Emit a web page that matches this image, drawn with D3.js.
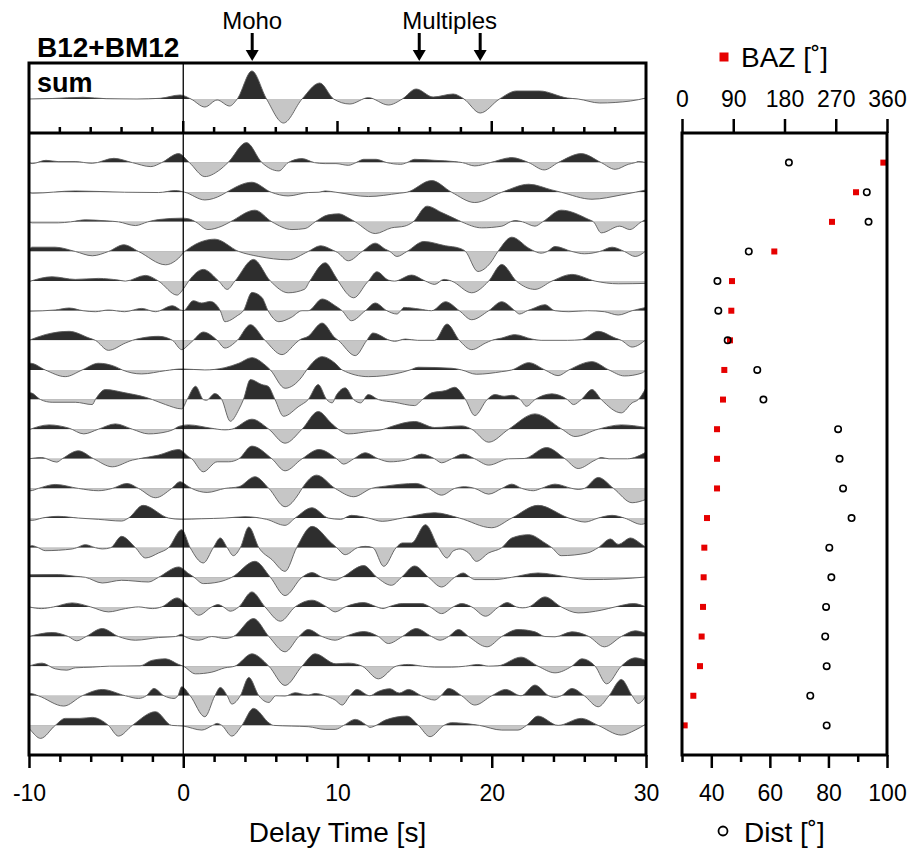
<!DOCTYPE html>
<html>
<head>
<meta charset="utf-8">
<script src="https://cdn.jsdelivr.net/npm/d3@7"></script>
<style>
  body { margin: 0; background: #fff; }
  svg { display: block; font-family: "Liberation Sans", Arial, Helvetica, sans-serif; }
</style>
</head>
<body>
<svg id="chart" width="913" height="854"></svg>
<script>
// receiver functions, [delay time (s), amplitude]
const sumTrace = [[-10,0],[-8.5,0.5],[-6.5,1.7],[-5,0.3],[-3,0],[-1.5,0.7],[-0.2,4],[0.5,0],[1.4,-8],[2.2,-1],[3.0,-7],[3.5,0],[4.45,28],[5.4,0],[6.5,-24],[7.7,0],[8.85,16],[9.75,0],[10.8,-5],[12.0,1.3],[13.3,-6],[14.2,0],[15.1,10],[16.2,2],[17.5,5],[18.2,0],[19.25,-14],[20.5,0],[21.6,8],[23.1,8],[24.9,1],[25.6,0],[27.0,-4],[29.0,-2],[30,1]];

const rf01 = [[-10,0],[-9.8,-1],[-8.9,2.3],[-8.1,1],[-7,1],[-5.9,-0.7],[-4.5,4.3],[-3.3,0],[-2.1,-4],[-1.4,0],[-0.3,9],[0.4,0],[1.4,-14],[2.3,-8],[2.9,0],[4.1,20],[5.1,0],[6.2,-8.3],[6.8,0],[7.7,4],[8.5,0],[9.2,-1],[9.9,-1],[10.7,-2.7],[11.2,0],[11.7,3.3],[12.5,3.3],[13.2,0],[14.1,-1.7],[14.5,0],[15.0,3.3],[16.3,2.3],[17.6,1],[18.1,0],[18.9,-3.3],[19.9,0],[21.3,5],[22.4,0],[23.4,-7.3],[24.3,0],[25.8,9],[27.1,0],[28.0,-6.7],[28.85,-1.7],[29.3,0],[29.5,1],[30,0]];
const rf02 = [[-10,0],[-9.8,-1],[-7,1.3],[-3.8,0],[-1.6,-0.3],[-0.5,1.7],[0.1,0],[1.4,-7.7],[2.5,-2.7],[2.8,0],[4.45,10],[5.7,0],[6.8,-3.7],[8.1,-0.3],[8.8,0],[9.2,1.3],[9.9,0],[12.0,-4.3],[14.0,-1],[14.5,0],[16.1,11.7],[17.4,0],[18.9,-10.3],[20.65,0],[22.4,8],[23.9,2.3],[24.5,0],[26.5,-7],[28.4,-2.7],[29.3,0],[30,2.3]];
const rf03 = [[-10,0],[-9.8,-1],[-8.1,-1],[-7.3,0],[-6.35,2],[-5.0,1],[-4.2,0],[-3.1,-3.7],[-2.3,0],[-1.6,2.3],[-0.1,3.7],[0.35,3],[0.8,0],[1.6,-7.7],[2.5,-4.3],[3.05,0],[4.65,11.7],[5.75,0],[7.05,-7.7],[7.9,-6.7],[8.55,0],[9.4,7],[10.1,8],[10.7,4],[11.15,0],[12.45,-11.7],[13.5,-6],[14.35,-4.3],[14.9,0],[15.8,15.7],[16.8,9],[17.5,4],[18.05,0],[19.35,-6],[20.65,-4.3],[21.2,0],[21.5,1.3],[22.0,0],[22.8,-4.3],[23.3,0],[24.5,11.7],[26.3,2.3],[26.6,0],[27.1,-11],[28.3,-4.3],[28.95,-7.7],[29.7,0],[30,2.3]];
const rf04 = [[-10,2],[-9.8,4.3],[-8.3,4.3],[-7,0],[-5.9,-4.3],[-4.85,0],[-3.85,6.7],[-2.9,0],[-1.15,-13.3],[-0.3,-6.7],[0.1,0],[2.05,12.3],[3.6,0],[4.9,-5],[6.8,-8.3],[8.1,0],[8.9,5.7],[9.7,1.3],[10.0,-1],[10.7,-9.3],[11.6,0],[12.45,8.3],[13.1,2.3],[13.4,0],[13.85,-5],[14.5,0],[15.6,10],[17.0,5.7],[17.9,3.3],[18.3,0],[19.1,-20],[19.9,-11.7],[20.4,0],[21.3,14.3],[22.4,3.3],[22.8,0],[23.2,-1.7],[23.6,0],[24.1,5],[25.2,0],[26.0,-2.3],[27.0,0],[27.8,4.3],[28.6,0],[29.3,-5],[30,0.7]];
const rf05 = [[-10,-0.5],[-8.5,4.3],[-7,1.7],[-5.5,2.7],[-4.2,1],[-3.75,0],[-2.45,5.7],[-1.6,0],[-0.4,-14],[0.0,-8],[0.35,0],[1.3,11.7],[2.3,0],[2.85,-8.3],[3.35,0],[4.55,21.7],[5.65,0],[6.8,-11.7],[7.85,-8.3],[8.2,0],[9.2,18.3],[9.85,5],[10.05,0],[11.05,-16.7],[11.9,-1.7],[12.0,0],[12.55,9.3],[13.3,1],[13.7,0],[14.8,6],[15.7,0],[16.3,-3.3],[16.9,1.7],[17.4,0],[18.7,-11.7],[19.8,0],[20.65,16.7],[21.6,0],[22.8,-8.3],[23.9,0],[25.2,6.7],[26.7,0],[28.2,-2.7],[30,-2.3]];
const rf06 = [[-10,-0.5],[-8.3,0.7],[-7.4,2.7],[-6.5,0],[-5.7,-1],[-4.85,0.7],[-3.8,-1],[-2.7,2.3],[-1.8,-1],[-0.7,5],[0,0],[0.65,10],[1.2,7.7],[1.75,9.3],[2.4,0],[2.7,-11],[3.5,-5],[3.9,0],[4.45,18.3],[5.1,13.3],[5.5,0],[6.2,-11],[7.0,-6.7],[7.7,0],[8.1,0],[9.0,11.7],[9.85,5],[10.3,0],[10.9,-10],[11.8,0],[12.45,7.7],[13.2,0],[13.85,-3.3],[14.1,0],[14.3,3.3],[15.3,1.7],[16.1,0],[17.0,9],[17.9,0],[18.7,-9],[19.8,0],[20.65,9],[21.5,0],[21.8,-3.3],[22.3,0],[22.6,1.7],[23.45,6],[24.1,0],[25.0,-1],[26.2,0],[27.3,-1],[28.2,-4.3],[29.1,0],[30,3.3]];
const rf07 = [[-10,0],[-8.95,5.7],[-7.4,9],[-6.1,2.3],[-5.7,0],[-4.85,-10],[-3.75,-2.7],[-3.3,0],[-2.7,2.3],[-1.6,4],[-0.7,0],[-0.1,-9.3],[0.35,-4.3],[0.65,0],[1.3,8.3],[2.2,0],[2.7,-7.7],[3.5,0],[4.35,15.7],[5.3,0],[6.4,-14.3],[7.3,-2.7],[7.5,0],[8.1,4],[9.0,17.3],[9.85,2.3],[10.05,0],[11.15,-15.3],[11.9,0],[12.3,7.3],[13.4,0],[13.7,-1],[14.4,1.3],[15.2,0],[16.3,0],[17.1,16.3],[17.9,0],[18.7,-9.3],[19.6,-2.7],[20.0,0],[20.65,2.3],[21.5,5.7],[22.6,1.3],[23.2,0],[24.9,0],[25.8,0.7],[26.9,9],[28.0,2.3],[28.4,0],[29.1,-6.7],[30,0.7]];
const rf08 = [[-10,6],[-9.9,6.7],[-8.95,0],[-7.65,-6.7],[-6.55,0],[-5.5,6.7],[-4.4,3.3],[-3.95,0],[-2.7,-4],[-1.15,-0.7],[-0.1,1],[1.4,0],[2.7,2.3],[3.6,6.7],[4.45,12.3],[5.3,5],[5.65,0],[6.6,-18.3],[7.7,-6.7],[8.0,0],[9.0,13.3],[9.85,6.7],[10.3,0],[12.0,-6.7],[14.2,-2.3],[14.7,0],[15.25,2.7],[17.4,1.7],[18.05,0],[19.0,-4.3],[20.65,-1.7],[21.3,0],[22.4,7.3],[23.45,0],[24.3,-5.7],[25.0,0],[26.5,8.3],[27.6,0],[28.6,-6],[29.7,-3.3],[30,0]];
const rf09 = [[-10,6],[-9.9,6.7],[-9.25,0],[-8.5,-2.7],[-7.0,-2.7],[-5.9,-5],[-5.7,0],[-5.05,10],[-3.75,6.7],[-2.45,2.3],[-2.0,0],[-1.15,-5],[-0.1,-9.3],[0.25,0],[0.8,13.3],[1.3,0],[1.5,-0.7],[2.05,6],[2.5,0],[3.05,-21.7],[3.6,-10],[3.9,0],[4.35,20],[5.1,15],[5.5,13.3],[5.95,0],[6.5,-16.7],[7.5,-6.7],[8.1,0],[8.75,15],[9.3,0],[9.65,-3.3],[9.95,5],[10.5,11.7],[11.05,0],[11.5,-3.3],[12.0,5],[12.65,0],[13.7,-2.7],[15.0,-6],[15.5,0],[16.1,6.7],[17.0,9],[17.6,12.3],[18.3,0],[18.9,-16],[19.7,0],[20.2,5],[20.8,3.3],[21.3,4.3],[21.85,0],[22.25,-6.7],[22.8,0],[23.9,5.7],[24.9,0],[25.3,-5],[25.8,0],[26.5,10],[27.1,0],[28.4,-13.3],[29.1,-3.3],[29.5,0],[30,11.7]];
const rf10 = [[-10,-0.5],[-8.7,4.3],[-7.4,1],[-6.45,-4.7],[-5.5,0],[-4.4,5.3],[-3.3,0],[-2.25,-4.7],[-1.0,-2.3],[-0.6,0],[-0.3,2.7],[0.35,4.3],[1.8,1],[2.7,-0.7],[3.15,0],[4.45,10],[5.55,0],[6.6,-14],[7.7,0],[8.75,17.7],[9.6,6],[10.05,0],[10.7,-4.7],[12.0,-2.3],[13.0,0],[13.5,2.7],[15.0,7.7],[16.3,1.7],[18.05,3.3],[18.7,0],[19.8,-13],[21.1,0],[22.8,15.3],[24.55,0],[25.4,-7.3],[26.9,0],[28.4,4.3],[30,1.7]];
const rf11 = [[-10,0],[-9.2,1.3],[-8.2,-3.3],[-7.85,0],[-6.8,8],[-5.8,0],[-4.6,-8],[-3.3,-1.3],[-2.9,0],[-1.6,3.7],[-0.3,9.3],[0.35,2],[0.55,0],[1.3,-13],[2.2,-3],[2.95,-3],[3.6,0],[4.45,12.7],[5.75,0],[6.6,-12],[7.7,0],[8.8,9.3],[9.95,0],[10.4,-5.3],[11.05,0],[11.8,6],[12.65,0],[13.4,-3],[14.4,-1.3],[14.7,0],[15.45,4.7],[16.3,0],[16.75,-4],[17.4,0],[18.15,4.7],[18.9,0],[19.8,-6.3],[21.1,0],[22.1,0.3],[23.55,11.3],[24.75,0],[25.6,-9.7],[26.7,-1.3],[27.1,1.3],[27.6,0],[28.8,0],[30,6.7]];
const rf12 = [[-10,-2],[-9.9,-2.3],[-9.4,0],[-8.3,4],[-6.8,0],[-5.5,-2.3],[-4.6,0],[-3.65,5],[-2.9,0],[-1.8,-9.3],[-0.75,0],[-0.2,6.7],[0.35,1.7],[0.55,0],[1.55,-4],[2.7,0],[3.6,1.7],[4.65,11.7],[5.55,0],[6.6,-18.3],[7.5,-5],[7.7,0],[8.65,13.3],[9.85,0],[11.05,-8.3],[12.2,0],[13.1,2.3],[15.1,5],[15.9,0],[16.75,-6.7],[17.6,0],[18.25,1.7],[18.9,0],[19.8,-5.7],[20.65,0],[21.3,4.3],[21.95,0],[22.7,-2.3],[23.2,0],[24.1,4.3],[25.2,0],[25.6,-1],[26.0,0],[26.9,11],[27.9,0],[29.1,-14.3],[30,-11]];
const rf13 = [[-10,-2],[-9.8,-2.3],[-9.15,0],[-8.1,1.7],[-6.8,0],[-5.5,-1.3],[-4.0,-3],[-3.55,0],[-2.6,12.7],[-0.95,0],[-0.1,-1.3],[1.2,-0.7],[2.7,0],[4.0,1.3],[5.4,-1.3],[6.6,-7.3],[7.25,0],[8.35,10.3],[9.4,0],[10.2,-1.3],[10.9,2.7],[12.0,0],[12.9,-3.3],[14.2,0],[16.3,5.3],[17.9,0],[20.0,-9.7],[21.3,0],[23.0,12.7],[25.0,0],[26.05,-4],[26.9,0],[27.8,2.7],[28.6,0],[29.7,-6.3],[30,-5]];
const rf14 = [[-10,1],[-9.8,2],[-9.4,0],[-8.95,-3],[-7.2,-1.3],[-6.9,0],[-6.35,3],[-5.7,0],[-5.25,-1.3],[-4.7,0],[-4.0,11.3],[-3.1,0],[-2.45,-10.3],[-1.6,-5.3],[-0.95,0],[-0.1,18],[0.45,0],[1.3,-15.3],[1.95,0],[2.4,9.7],[2.85,0],[3.25,-8],[3.7,0],[4.25,20.7],[4.9,0],[5.75,-12],[6.6,-23.7],[7.35,0],[8.35,21.3],[9.6,4.7],[9.95,0],[10.5,-7],[11.3,0],[11.8,1.3],[12.3,0],[13.0,-18.7],[13.8,0],[14.2,4.7],[14.8,4.7],[15.7,23],[16.55,0],[17.1,-10.3],[17.5,-3.3],[17.95,-1.3],[18.5,-5.3],[19.0,-13.7],[19.8,-5.3],[20.65,0],[21.3,9.7],[22.4,13],[23.45,4.7],[23.9,0],[24.5,-8],[26.2,-5.3],[26.9,0],[27.7,8.7],[28.2,3.3],[29.0,9.7],[29.6,4.7],[30,0]];
const rf15 = [[-10,2.5],[-8.1,2.7],[-7.0,1],[-6.35,0],[-5.25,-5.7],[-4.0,-3],[-2.25,-4.7],[-1.6,0],[-0.3,10.3],[0.35,3.7],[0.7,0],[1.3,-6.3],[2.3,-4.7],[3.15,0],[4.65,16],[5.65,0],[6.6,-18.3],[7.7,0],[8.35,4.7],[9.0,0],[9.85,-3],[10.3,0],[11.7,11.7],[12.55,0],[13.5,-8],[14.15,0],[15.0,11.3],[15.9,0],[16.75,-9.7],[17.6,0],[18.15,4.3],[18.6,0],[18.9,-2.3],[20.2,-2.3],[21.3,0],[23.0,4.3],[25.0,0],[26.3,-2.3],[28.2,-1.7],[30,0.3]];
const rf16 = [[-10,0],[-9.2,-1.7],[-8.4,0],[-7.2,4],[-6.0,0],[-4.85,-5],[-3.75,-1.7],[-2.9,0],[-2.0,-1.7],[-1.4,0],[-0.4,9],[0.35,0],[1.0,-8.3],[1.85,0],[2.25,2.3],[2.6,0],[3.05,-4.3],[3.6,0],[4.45,15],[5.3,0],[6.3,-14.3],[7.25,0],[8.35,6.7],[9.3,0],[9.85,-5],[10.5,0],[11.7,4.3],[12.55,0],[12.95,-1.7],[13.3,0],[14.2,3.3],[15.45,3.3],[16.0,0],[16.75,-6.7],[17.5,0],[18.05,3.3],[18.7,0],[19.6,-9.3],[20.45,0],[21.0,4.3],[21.6,0],[22.0,-1],[22.4,0],[23.45,10],[24.5,0],[25.6,-6],[27.1,-3.3],[28.0,0],[29.2,3.3],[30,0]];
const rf17 = [[-10,0],[-8.5,4],[-7.45,0],[-6.9,-4.3],[-6.3,0],[-5.25,8],[-4.2,0],[-3.1,-3.7],[-1.6,-1],[-0.5,0],[-0.1,2.3],[0.1,0],[1.0,-3.7],[1.85,0],[2.7,-2],[3.25,0],[4.55,18],[5.55,0],[6.6,-15.3],[7.5,0],[8.1,7],[9.0,0],[9.85,-3.7],[10.5,0],[11.7,5],[12.65,0],[13.3,-7],[14.2,0],[15.1,8],[16.1,0],[16.65,-3.7],[17.2,0],[17.85,7],[18.5,0],[19.7,-10.3],[20.65,0],[21.7,7],[22.8,4.7],[23.45,0],[24.1,-0.3],[25.2,4.7],[26.3,0],[27.3,-10.3],[28.4,0],[29.3,5.7],[30,3]];
const rf18 = [[-10,0],[-9.15,3],[-8.3,-2.7],[-7.55,-4],[-7.0,-1.7],[-5.9,-1],[-4.8,0],[-2.8,0.3],[-2.05,5.7],[-1.15,7.3],[-0.3,1.7],[0,0],[0.8,-7.7],[1.85,-6],[2.7,-1.7],[3.35,0],[4.45,12.3],[5.55,0],[6.6,-19.3],[7.7,0],[8.55,12.3],[9.9,2.3],[10.7,3],[11.6,0],[12.65,-12.7],[13.8,0],[14.6,1.7],[15.5,0],[16.3,-1],[17.4,-1],[18.3,0],[19.1,1.7],[19.8,0],[20.4,0.3],[21.9,9],[23.0,0],[24.1,-6.7],[25.2,0],[25.85,7.3],[26.7,0],[27.45,-17.7],[28.4,0],[29.3,8.3],[30,5.7]];
const rf19 = [[-10,2],[-9.9,2.3],[-9.4,0],[-7.75,-10.3],[-6.55,0],[-5.25,6.3],[-3.75,0],[-2.9,-2.7],[-2.4,0],[-1.9,7.3],[-1.25,0],[-0.6,-2.7],[-0.35,0],[-0.1,9],[0.45,0],[1.4,-21],[2.05,0],[2.4,8.3],[2.85,0],[3.15,-8.3],[3.7,0],[4.25,18.3],[4.9,0],[5.55,-6.7],[6.0,0],[6.6,-0.3],[7.25,3],[8.1,0.7],[8.55,2.3],[9.2,0],[9.85,-4.3],[10.3,-9.3],[10.8,0],[11.25,6.3],[12.1,0],[12.6,4],[13.4,7],[14.0,2.7],[14.6,6.3],[15.45,0],[16.3,-4.3],[16.7,0],[17.2,7.3],[18.05,0],[18.9,-9.3],[20.0,0],[20.9,6.3],[21.9,0],[22.8,10.7],[23.7,0],[24.1,-1.7],[24.5,0],[25.2,7.3],[26.0,0],[26.9,-11],[27.6,0],[28.4,16.3],[29.1,0],[29.5,-7.7],[30,0]];
const rf20 = [[-10,-3],[-9.9,-4.7],[-9.25,-13],[-8.3,0],[-7.65,7],[-6.7,7],[-5.9,8],[-4.85,0],[-4.2,-10.7],[-3.3,0],[-1.8,13.7],[-0.75,0],[0,-0.7],[1.2,-4.7],[1.9,0],[2.2,2],[2.5,0],[3.15,-10.7],[3.8,0],[4.55,17],[5.6,2],[5.85,0],[7.0,-0.7],[8.1,-1.3],[9.2,-4],[9.85,-4],[10.4,0],[11.15,6],[11.9,0],[12.1,-2],[12.5,0],[13.1,5.3],[14.5,9.3],[15.25,0],[16.0,-11.3],[16.9,0],[17.4,2.7],[18.6,1.3],[19.2,0],[20.65,-4.7],[21.7,-4.7],[22.25,0],[23.0,9.3],[24.3,0],[25.8,7],[26.9,0],[28.4,-9.7],[29.3,-4.7],[30,1.3]];

const traces = [rf01, rf02, rf03, rf04, rf05, rf06, rf07, rf08, rf09, rf10,
                rf11, rf12, rf13, rf14, rf15, rf16, rf17, rf18, rf19, rf20];

// event parameters, same order as the traces
const baz = [353.6, 305.6, 263.4, 162.1, 87.8, 86.6, 84.3, 74.3, 72.0, 61.5,
             61.5, 61.5, 43.9, 39.2, 38.0, 36.9, 34.5, 31.6, 19.9, 4.7];
const dist = [66.5, 93.1, 93.7, 52.8, 42.1, 42.4, 45.6, 55.7, 57.8, 83.3,
              83.8, 85.0, 87.9, 80.3, 81.0, 79.2, 78.9, 79.4, 73.8, 79.4];

const markerTimes = [4.47, 15.3, 19.25];
const timeTicks = [-10, 0, 10, 20, 30];
const bazTicks = [0, 90, 180, 270, 360];
const distTicks = [40, 60, 80, 100];

var svg = d3.select("#chart");

var x = d3.scaleLinear().domain([-10, 30]).range([29, 646]);
var row = d3.scaleLinear().domain([0, traces.length + 1]).range([133, 755]);
var amp = d3.scaleLinear().domain([-30, 30]).range([30, -30]);
var bazX = d3.scaleLinear().domain([0, 360]).range([682, 887]);
var distX = d3.scaleLinear().domain([30, 100]).range([682, 887]);
var sumBase = 99;

var defs = svg.append("defs");

function drawTrace(g, pts, base, id) {
  var line = d3.line()
    .x(d => x(d[0]))
    .y(d => base + amp(d[1]))
    .curve(d3.curveMonotoneX);
  var area = d3.area()
    .x(d => x(d[0]))
    .y0(base)
    .y1(d => base + amp(d[1]))
    .curve(d3.curveMonotoneX);

  defs.append("clipPath").attr("id", "up" + id)
    .append("rect").attr("x", x(-10)).attr("y", base - 60)
    .attr("width", x(30) - x(-10)).attr("height", 60);
  defs.append("clipPath").attr("id", "dn" + id)
    .append("rect").attr("x", x(-10)).attr("y", base)
    .attr("width", x(30) - x(-10)).attr("height", 60);

  g.append("path").datum(pts)
    .attr("d", area)
    .attr("fill", "#c6c6c6")
    .attr("clip-path", "url(#dn" + id + ")");
  g.append("path").datum(pts)
    .attr("d", area)
    .attr("fill", "#2e2e2e")
    .attr("clip-path", "url(#up" + id + ")");
  g.append("path").datum(pts)
    .attr("d", line)
    .attr("fill", "none")
    .attr("stroke", "#5a5a5a")
    .attr("stroke-width", 0.9);
}

// traces
var gTraces = svg.append("g");
drawTrace(gTraces, sumTrace, sumBase, "sum");
traces.forEach((t, i) => drawTrace(gTraces, t, row(i + 1), i));

// zero time line
svg.append("line")
  .attr("x1", x(0)).attr("x2", x(0))
  .attr("y1", 63).attr("y2", 755)
  .attr("stroke", "#000").attr("stroke-width", 1.3);

// sum panel ticks (inside, pointing up)
var sumTicks = d3.range(-8, 30, 2);
svg.append("g").selectAll("line")
  .data(sumTicks).enter().append("line")
    .attr("x1", d => x(d)).attr("x2", d => x(d))
    .attr("y1", 133)
    .attr("y2", d => d % 10 === 0 ? 121 : 127)
    .attr("stroke", "#000").attr("stroke-width", 2.5);

// bottom time axis
var minorAxis = svg.append("g")
  .attr("transform", "translate(0,755)")
  .call(d3.axisBottom(x).tickValues(d3.range(-8, 30, 2).filter(d => d % 10 !== 0)).tickSize(7).tickFormat(""));
var majorAxis = svg.append("g")
  .attr("transform", "translate(0,755)")
  .call(d3.axisBottom(x).tickValues(timeTicks).tickSize(13).tickPadding(17).tickFormat(d => String(d)));

// BAZ axis (top) and distance axis (bottom) of the right panel
var bazAxis = svg.append("g")
  .attr("transform", "translate(0,133)")
  .call(d3.axisTop(bazX).tickValues(bazTicks).tickSize(14).tickPadding(12).tickFormat(d => String(d)));
var distMinor = svg.append("g")
  .attr("transform", "translate(0,755)")
  .call(d3.axisBottom(distX).tickValues([30, 50, 70, 90]).tickSize(7).tickFormat(""));
var distMajor = svg.append("g")
  .attr("transform", "translate(0,755)")
  .call(d3.axisBottom(distX).tickValues(distTicks).tickSize(13).tickPadding(17).tickFormat(d => String(d)));

[minorAxis, majorAxis, bazAxis, distMinor, distMajor].forEach(a => {
  a.select(".domain").remove();
  a.selectAll(".tick line").attr("stroke", "#000").attr("stroke-width", 2.5);
  a.selectAll(".tick text")
    .attr("fill", "#000")
    .style("font-size", "23px")
    .style("font-family", "'Liberation Sans', Arial, Helvetica, sans-serif");
});

// points
svg.append("g").selectAll("rect")
  .data(baz).enter().append("rect")
    .attr("x", d => bazX(d) - 3)
    .attr("y", (d, i) => row(i + 1) - 3)
    .attr("width", 6).attr("height", 6)
    .attr("fill", "#e60000");

svg.append("g").selectAll("circle")
  .data(dist).enter().append("circle")
    .attr("cx", d => distX(d))
    .attr("cy", (d, i) => row(i + 1))
    .attr("r", 3.2)
    .attr("fill", "none")
    .attr("stroke", "#000")
    .attr("stroke-width", 1.6);

// frames
svg.append("rect")
  .attr("x", x(-10)).attr("y", 63)
  .attr("width", x(30) - x(-10)).attr("height", 755 - 63)
  .attr("fill", "none").attr("stroke", "#000").attr("stroke-width", 3);
svg.append("line")
  .attr("x1", x(-10)).attr("x2", x(30))
  .attr("y1", 133).attr("y2", 133)
  .attr("stroke", "#000").attr("stroke-width", 3);
svg.append("rect")
  .attr("x", 682).attr("y", 133)
  .attr("width", 205).attr("height", 622)
  .attr("fill", "none").attr("stroke", "#000").attr("stroke-width", 3);

// phase markers
var markers = svg.append("g");
markerTimes.forEach(t => {
  markers.append("line")
    .attr("x1", x(t)).attr("x2", x(t))
    .attr("y1", 33).attr("y2", 52)
    .attr("stroke", "#000").attr("stroke-width", 3);
  markers.append("path")
    .attr("d", "M" + (x(t) - 6.5) + ",50L" + (x(t) + 6.5) + ",50L" + x(t) + ",61Z")
    .attr("fill", "#000");
});
markers.append("text")
  .attr("x", x(markerTimes[0])).attr("y", 29)
  .attr("text-anchor", "middle")
  .style("font-size", "24px")
  .text("Moho");
markers.append("text")
  .attr("x", x((markerTimes[1] + markerTimes[2]) / 2)).attr("y", 29)
  .attr("text-anchor", "middle")
  .style("font-size", "24px")
  .text("Multiples");

// titles and labels
svg.append("text")
  .attr("x", 37).attr("y", 57)
  .style("font-size", "28px").style("font-weight", "bold")
  .text("B12+BM12");
svg.append("text")
  .attr("x", 37).attr("y", 92)
  .style("font-size", "27px").style("font-weight", "bold")
  .text("sum");
svg.append("text")
  .attr("x", (x(-10) + x(30)) / 2).attr("y", 842)
  .attr("text-anchor", "middle")
  .style("font-size", "28px")
  .text("Delay Time [s]");

// legends
svg.append("rect")
  .attr("x", 719.5).attr("y", 52.5)
  .attr("width", 9).attr("height", 9)
  .attr("fill", "#e60000");
svg.append("text")
  .attr("x", 741).attr("y", 67)
  .style("font-size", "28px")
  .text("BAZ [˚]");
svg.append("circle")
  .attr("cx", 723).attr("cy", 831).attr("r", 4.5)
  .attr("fill", "none").attr("stroke", "#000").attr("stroke-width", 1.8);
svg.append("text")
  .attr("x", 744).attr("y", 842)
  .style("font-size", "28px")
  .text("Dist [˚]");
</script>
</body>
</html>
